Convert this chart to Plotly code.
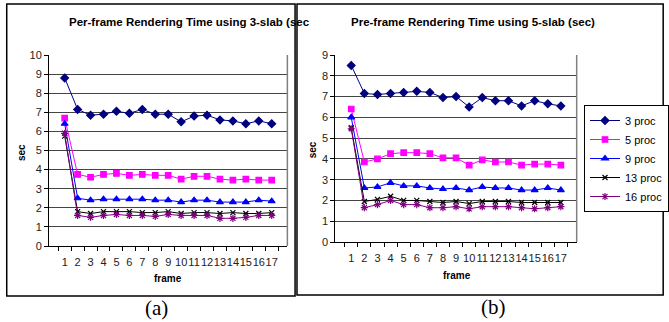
import plotly.graph_objects as go

W, H = 669, 322

frames = [str(i) for i in range(1, 18)]
series_names = ["3 proc", "5 proc", "9 proc", "13 proc", "16 proc"]

slab3_p3 = [8.8, 7.15, 6.85, 6.9, 7.05, 6.95, 7.15, 6.9, 6.9, 6.5, 6.8, 6.85, 6.6, 6.55, 6.4, 6.55, 6.4]
slab3_p5 = [6.7, 3.75, 3.6, 3.75, 3.8, 3.7, 3.75, 3.7, 3.7, 3.5, 3.65, 3.65, 3.5, 3.45, 3.5, 3.45, 3.45]
slab3_p9 = [6.4, 2.5, 2.4, 2.45, 2.45, 2.45, 2.45, 2.4, 2.4, 2.3, 2.4, 2.4, 2.3, 2.3, 2.3, 2.4, 2.35]
slab3_p13 = [5.75, 1.8, 1.7, 1.8, 1.8, 1.8, 1.75, 1.75, 1.8, 1.7, 1.75, 1.75, 1.7, 1.75, 1.7, 1.7, 1.75]
slab3_p16 = [5.9, 1.6, 1.5, 1.6, 1.65, 1.6, 1.6, 1.55, 1.65, 1.6, 1.6, 1.6, 1.45, 1.45, 1.5, 1.6, 1.6]

slab5_p3 = [8.5, 7.15, 7.1, 7.15, 7.2, 7.25, 7.2, 6.95, 7.0, 6.5, 6.95, 6.8, 6.8, 6.55, 6.8, 6.65, 6.55]
slab5_p5 = [6.4, 3.85, 4.0, 4.25, 4.3, 4.3, 4.25, 4.05, 4.05, 3.7, 3.95, 3.85, 3.85, 3.7, 3.75, 3.75, 3.7]
slab5_p9 = [6.0, 2.6, 2.65, 2.85, 2.7, 2.7, 2.6, 2.55, 2.6, 2.5, 2.65, 2.6, 2.6, 2.5, 2.5, 2.6, 2.5]
slab5_p13 = [5.5, 1.95, 2.05, 2.2, 2.0, 2.0, 1.95, 1.9, 1.95, 1.85, 1.95, 1.95, 1.95, 1.9, 1.9, 1.9, 1.9]
slab5_p16 = [5.45, 1.65, 1.8, 2.0, 1.8, 1.8, 1.65, 1.65, 1.7, 1.6, 1.7, 1.7, 1.7, 1.65, 1.6, 1.65, 1.7]

title_a = "Per-frame Rendering Time using 3-slab (sec"
title_b = "Pre-frame Rendering Time using 5-slab (sec)"
y_ticks_a = list(range(0, 11))
y_ticks_b = list(range(0, 10))

styles = [
    dict(color="#000080", symbol="diamond", size=6),
    dict(color="#FF00FF", symbol="square", size=5.5),
    dict(color="#0000FF", symbol="triangle-up", size=6),
    dict(color="#000000", symbol="x-thin", size=5),
    dict(color="#800080", symbol="asterisk", size=6),
]


def px(x):
    return x / W


def py(y):
    return 1 - y / H


fig = go.Figure()

data_a = [slab3_p3, slab3_p5, slab3_p9, slab3_p13, slab3_p16]
data_b = [slab5_p3, slab5_p5, slab5_p9, slab5_p13, slab5_p16]

for name, vals, st in zip(series_names, data_a, styles):
    fig.add_trace(go.Scatter(
        x=frames, y=vals, mode="lines+markers", name=name, showlegend=False,
        xaxis="x", yaxis="y",
        line=dict(color=st["color"], width=1),
        marker=dict(color=st["color"], symbol=st["symbol"], size=st["size"],
                    line=dict(color=st["color"], width=1.2)),
    ))
for name, vals, st in zip(series_names, data_b, styles):
    fig.add_trace(go.Scatter(
        x=frames, y=vals, mode="lines+markers", name=name, showlegend=True,
        xaxis="x2", yaxis="y2",
        line=dict(color=st["color"], width=1),
        marker=dict(color=st["color"], symbol=st["symbol"], size=st["size"],
                    line=dict(color=st["color"], width=1.2)),
    ))

axis_font = dict(family="Arial, Liberation Sans", size=11, color="#222")

xcommon = dict(type="category", tickson="boundaries", ticks="outside", ticklen=4,
               tickcolor="black", showline=True, linecolor="black", linewidth=1,
               showgrid=False, zeroline=False, tickfont=axis_font, fixedrange=True,
               tickmode="array", tickvals=frames, ticktext=frames, tickangle=0,
               automargin=False, ticklabelstandoff=6)
ycommon = dict(ticks="outside", ticklen=4, tickcolor="black", showline=True,
               linecolor="black", linewidth=1, showgrid=True, gridcolor="#444",
               gridwidth=1.3, zeroline=False, tickfont=axis_font, fixedrange=True,
               automargin=False)

fig.update_layout(
    autosize=True,
    margin=dict(l=0, r=0, t=0, b=0),
    paper_bgcolor="white", plot_bgcolor="white",
    font=dict(family="Arial, Liberation Sans", color="black"),
    xaxis=dict(domain=[px(51), px(299)], anchor="y", **xcommon),
    yaxis=dict(domain=[py(246), py(55)], anchor="x", range=[0, 10],
               tickvals=y_ticks_a, **ycommon),
    xaxis2=dict(domain=[px(349), px(600)], anchor="y2", **xcommon),
    yaxis2=dict(domain=[py(242), py(55)], anchor="x2", range=[0, 9],
                tickvals=y_ticks_b, **ycommon),
    legend=dict(x=px(608), y=py(105), xanchor="left", yanchor="top",
                bordercolor="black", borderwidth=1, bgcolor="white",
                font=dict(family="Arial, Liberation Sans", size=11, color="black"),
                itemwidth=30, tracegroupgap=0),
    showlegend=True,
)

shapes = [
    dict(type="rect", xref="paper", yref="paper", x0=px(7), x1=px(307), y0=py(296), y1=py(4),
         line=dict(color="black", width=1.5)),
    dict(type="rect", xref="paper", yref="paper", x0=px(309), x1=px(690), y0=py(295), y1=py(4),
         line=dict(color="black", width=1.5)),
    dict(type="line", xref="paper", yref="paper", x0=px(299), x1=px(299), y0=py(246), y1=py(55),
         line=dict(color="#808080", width=1.5)),
    dict(type="line", xref="paper", yref="paper", x0=px(600), x1=px(600), y0=py(242), y1=py(55),
         line=dict(color="#808080", width=1.5)),
]
fig.update_layout(shapes=shapes)

title_font = dict(family="Arial, Liberation Sans", size=11.5, color="black", weight="bold")
lab_font = dict(family="Arial, Liberation Sans", size=10, color="black", weight="bold")
cap_font = dict(family="Times New Roman, Liberation Serif", size=21, color="black")

annotations = [
    dict(text="<b>" + title_a + "</b>", x=px(70), y=py(22), xanchor="left", yanchor="middle",
         font=title_font),
    dict(text="<b>" + title_b + "</b>", x=px(492), y=py(22), xanchor="center", yanchor="middle",
         font=title_font),
    dict(text="<b>frame</b>", x=px(175), y=py(278), xanchor="center", yanchor="middle", font=lab_font),
    dict(text="<b>frame</b>", x=px(475), y=py(275), xanchor="center", yanchor="middle", font=lab_font),
    dict(text="<b>sec</b>", x=px(23), y=py(153), xanchor="center", yanchor="middle", textangle=-90,
         font=lab_font),
    dict(text="<b>sec</b>", x=px(325), y=py(150), xanchor="center", yanchor="middle", textangle=-90,
         font=lab_font),
    dict(text="(a)", x=px(163), y=py(308), xanchor="center", yanchor="middle", font=cap_font),
    dict(text="(b)", x=px(513), y=py(307), xanchor="center", yanchor="middle", font=cap_font),
]
for a in annotations:
    a.update(xref="paper", yref="paper", showarrow=False)
fig.update_layout(annotations=annotations)

post = (
    "document.documentElement.style.margin='0';"
    "document.documentElement.style.overflow='hidden';"
    "document.body.style.margin='0';"
    "document.body.style.overflow='hidden';"
    "var gd=document.getElementById('{plot_id}');"
    "gd.style.width='100vw';gd.style.height='100vh';"
    "Plotly.Plots.resize(gd);"
)

fig.write_html(
    "out.html",
    default_width="100vw",
    default_height="100vh",
    config={"displayModeBar": False, "responsive": True},
    post_script=post,
)
